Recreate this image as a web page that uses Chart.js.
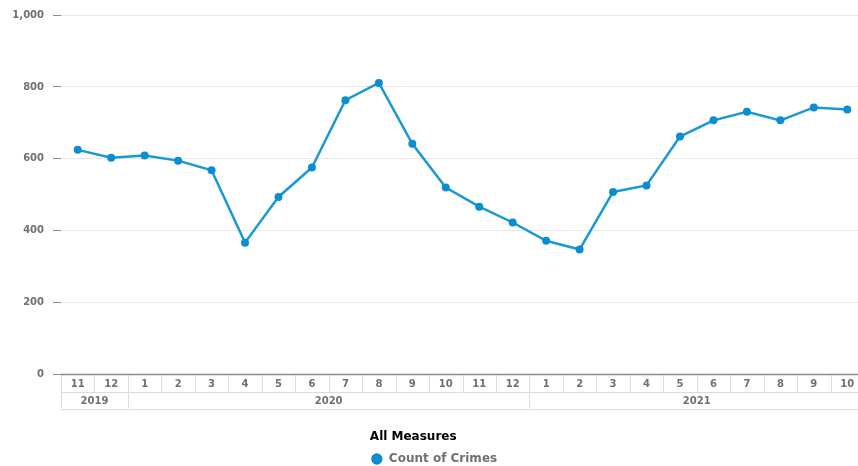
<!DOCTYPE html>
<html>
<head>
<meta charset="utf-8">
<script src="https://cdn.jsdelivr.net/npm/chart.js@4"></script>
<style>
  html, body { margin: 0; padding: 0; overflow: hidden; background: #fff; }
  #wrap { width: 868px; height: 466px; position: relative; }
</style>
</head>
<body>
<div id="wrap"><canvas id="myChart"></canvas></div>
<script>
// Chart data
const monthLabels = ['11', '12', '1', '2', '3', '4', '5', '6', '7', '8', '9', '10', '11', '12',
                     '1', '2', '3', '4', '5', '6', '7', '8', '9', '10'];
const yearLabels = ['2019', '2020', '2021'];
const yearSpans = [2, 12, 10]; // how many months fall under each year
const crimeCounts = [625, 603, 609, 595, 568, 367, 494, 576, 763, 811, 642, 520,
                     467, 423, 372, 348, 508, 526, 662, 707, 731, 707, 743, 737];
const yTicks = [0, 200, 400, 600, 800, 1000];

const labelGray = '#707070';
const cellLine = '#dcdcdc';
const tickFont = { family: 'DejaVu Sans', size: 10, weight: 'bold' };

// Draws the two-row month / year table under the x axis
const axisTable = {
    id: 'axisTable',
    afterDraw(chart) {
        const ctx = chart.ctx;
        const x = chart.scales.x;
        const top = chart.chartArea.bottom;
        const rowH = 17;
        const left = chart.chartArea.left;
        const right = chart.chartArea.right;

        // boundaries between categories
        const edges = [left];
        for (let i = 0; i < monthLabels.length - 1; i++) {
            edges.push((x.getPixelForTick(i) + x.getPixelForTick(i + 1)) / 2);
        }
        edges.push(right);

        ctx.save();
        ctx.strokeStyle = cellLine;
        ctx.lineWidth = 1;
        ctx.beginPath();
        // month row verticals
        edges.forEach(e => {
            const px = Math.round(e) + 0.5;
            ctx.moveTo(px, top);
            ctx.lineTo(px, top + rowH);
        });
        // middle and bottom horizontals
        ctx.moveTo(left, Math.round(top + rowH) + 0.5);
        ctx.lineTo(right, Math.round(top + rowH) + 0.5);
        ctx.moveTo(left, Math.round(top + rowH * 2) + 0.5);
        ctx.lineTo(right, Math.round(top + rowH * 2) + 0.5);
        // year row verticals
        let idx = 0;
        const groupEdges = [0];
        yearSpans.forEach(n => { idx += n; groupEdges.push(idx); });
        groupEdges.forEach(g => {
            const px = Math.round(edges[g]) + 0.5;
            ctx.moveTo(px, top + rowH);
            ctx.lineTo(px, top + rowH * 2);
        });
        ctx.stroke();

        // year labels
        ctx.fillStyle = labelGray;
        ctx.font = 'bold 10px "DejaVu Sans"';
        ctx.textAlign = 'center';
        ctx.textBaseline = 'middle';
        yearLabels.forEach((yr, i) => {
            const a = edges[groupEdges[i]];
            const b = edges[groupEdges[i + 1]];
            ctx.fillText(yr, (a + b) / 2, top + rowH * 1.5 + 1);
        });

        // axis line on top
        ctx.strokeStyle = '#8c8c8c';
        ctx.lineWidth = 1.5;
        ctx.beginPath();
        ctx.moveTo(left, top);
        ctx.lineTo(right, top);
        ctx.stroke();
        ctx.restore();
    }
};

const canvas = document.getElementById('myChart');
const ctx = canvas.getContext('2d');

const config = {
    type: 'line',
    data: {
        labels: monthLabels,
        datasets: [{
            label: 'Count of Crimes',
            data: crimeCounts,
            borderColor: '#1b98d6',
            backgroundColor: '#0b8dd2',
            borderWidth: 2.5,
            pointRadius: 4,
            pointBorderWidth: 0,
            pointBackgroundColor: '#0b8dd2',
            tension: 0
        }]
    },
    options: {
        responsive: true,
        maintainAspectRatio: false,
        animation: false,
        layout: { padding: { top: 15, left: 0, right: 0, bottom: -9 } },
        scales: {
            x: {
                type: 'category',
                offset: true,
                grid: { display: false, drawTicks: false },
                border: { display: false },
                ticks: {
                    color: labelGray,
                    font: tickFont,
                    padding: 4,
                    maxRotation: 0,
                    autoSkip: false
                },
                afterFit(scale) { scale.height = 50; }
            },
            y: {
                min: 0,
                max: 1000,
                afterBuildTicks(scale) {
                    scale.ticks = yTicks.map(v => ({ value: v }));
                },
                grid: {
                    color: '#e8e8e8',
                    tickColor: '#888',
                    tickLength: 8,
                    drawTicks: true
                },
                border: { display: false },
                ticks: {
                    color: labelGray,
                    font: tickFont,
                    padding: 9
                },
                afterFit(scale) { scale.width = 61; }
            }
        },
        plugins: {
            legend: {
                position: 'bottom',
                title: {
                    display: true,
                    text: 'All Measures',
                    position: 'start',
                    color: '#000',
                    font: { family: 'DejaVu Sans', size: 12, weight: 'bold' },
                    padding: 6
                },
                labels: {
                    usePointStyle: true,
                    pointStyle: 'circle',
                    boxWidth: 12,
                    boxHeight: 8,
                    padding: 2,
                    color: labelGray,
                    font: { family: 'DejaVu Sans', size: 12, weight: 'bold' }
                }
            },
            tooltip: { enabled: false }
        }
    },
    plugins: [axisTable]
};

const myChart = new Chart(ctx, config);
</script>
</body>
</html>
